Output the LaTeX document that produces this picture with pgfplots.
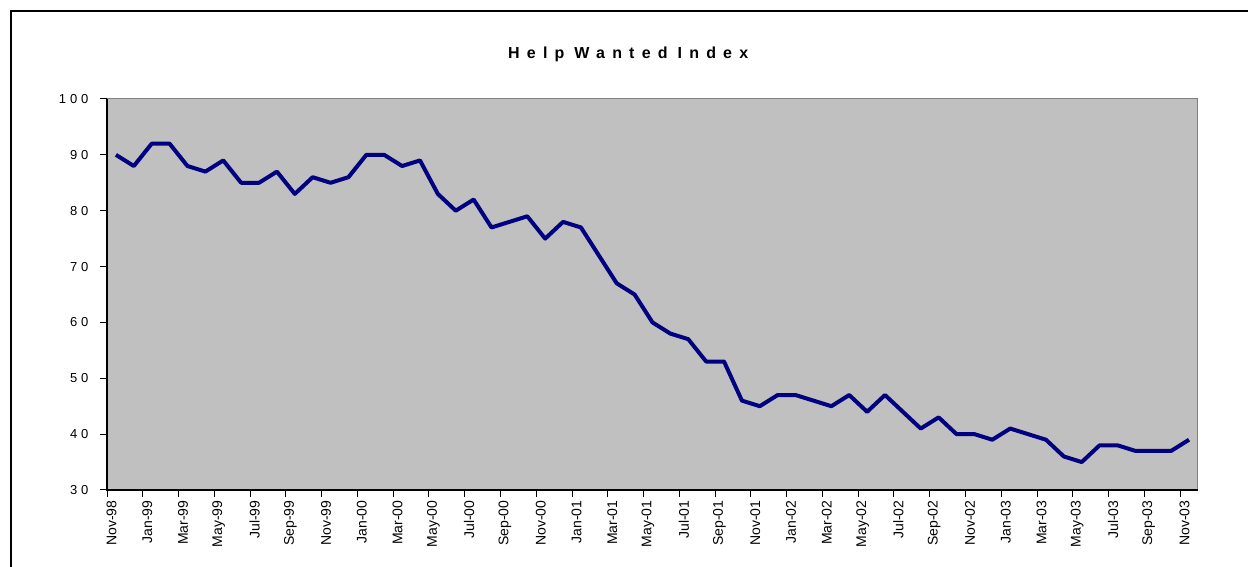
\documentclass[border=0pt]{standalone}
\usepackage{pgfplots}
\pgfplotsset{compat=1.18}
\usepackage{pgfplotstable}
\usepackage{fontspec}
\setmainfont{Liberation Sans}
\newfontfamily\titlefont[LetterSpace=45]{Liberation Sans}
\newfontfamily\tickfont[LetterSpace=30]{Liberation Sans}
\definecolor{navyline}{HTML}{000080}
\definecolor{plotbg}{HTML}{C0C0C0}
\definecolor{framegray}{HTML}{808080}

\pgfplotstableread{
idx value
0 90
1 88
2 92
3 92
4 88
5 87
6 89
7 85
8 85
9 87
10 83
11 86
12 85
13 86
14 90
15 90
16 88
17 89
18 83
19 80
20 82
21 77
22 78
23 79
24 75
25 78
26 77
27 72
28 67
29 65
30 60
31 58
32 57
33 53
34 53
35 46
36 45
37 47
38 47
39 46
40 45
41 47
42 44
43 47
44 44
45 41
46 43
47 40
48 40
49 39
50 41
51 40
52 39
53 36
54 35
55 38
56 38
57 37
58 37
59 37
60 39
}\hwi

\begin{document}
\begin{tikzpicture}
\useasboundingbox (0,0) rectangle (1248pt,567pt);
\draw[line width=2pt] (11pt,0pt) -- (11pt,556pt) -- (1250pt,556pt);
\node[anchor=base west, inner sep=0pt] at (508pt,508pt)
  {\titlefont\bfseries\fontsize{16}{16}\selectfont Help\hspace{10pt}Wanted\hspace{10pt}Index};
\begin{axis}[
  at={(107pt,77pt)}, anchor=south west,
  scale only axis, width=1091pt, height=391pt,
  xmin=-0.5, xmax=60.5, ymin=30, ymax=100,
  axis background/.style={fill=plotbg},
  axis line style={draw=framegray, line width=1pt},
  clip=false,
  tick align=outside,
  xtick pos=bottom, ytick pos=left,
  major tick length=7pt, minor tick length=7pt,
  tick style={black, line width=1pt},
  ytick={30,40,...,100},
  /pgf/number format/assume math mode=true,
  yticklabel style={font=\tickfont\fontsize{13}{13}\selectfont, xshift=-8pt},
  xtick={-0.25,1.75,...,59.75},
  xticklabels={Nov-98,Jan-99,Mar-99,May-99,Jul-99,Sep-99,Nov-99,Jan-00,Mar-00,May-00,Jul-00,Sep-00,Nov-00,Jan-01,Mar-01,May-01,Jul-01,Sep-01,Nov-01,Jan-02,Mar-02,May-02,Jul-02,Sep-02,Nov-02,Jan-03,Mar-03,May-03,Jul-03,Sep-03,Nov-03},
  xticklabel style={rotate=90, anchor=east, font=\fontsize{14}{14}\selectfont},
  major x tick style={draw=none},
  minor xtick={-0.5,1.5,...,59.5},
  minor x tick style={draw=black, line width=1pt},
]
\addplot[navyline, line width=4pt, line join=round] table[x=idx, y=value] {\hwi};
\draw[black, line width=1.2pt] (rel axis cs:0,1) -- (rel axis cs:0,0) -- (rel axis cs:1,0);
\end{axis}
\end{tikzpicture}
\end{document}
